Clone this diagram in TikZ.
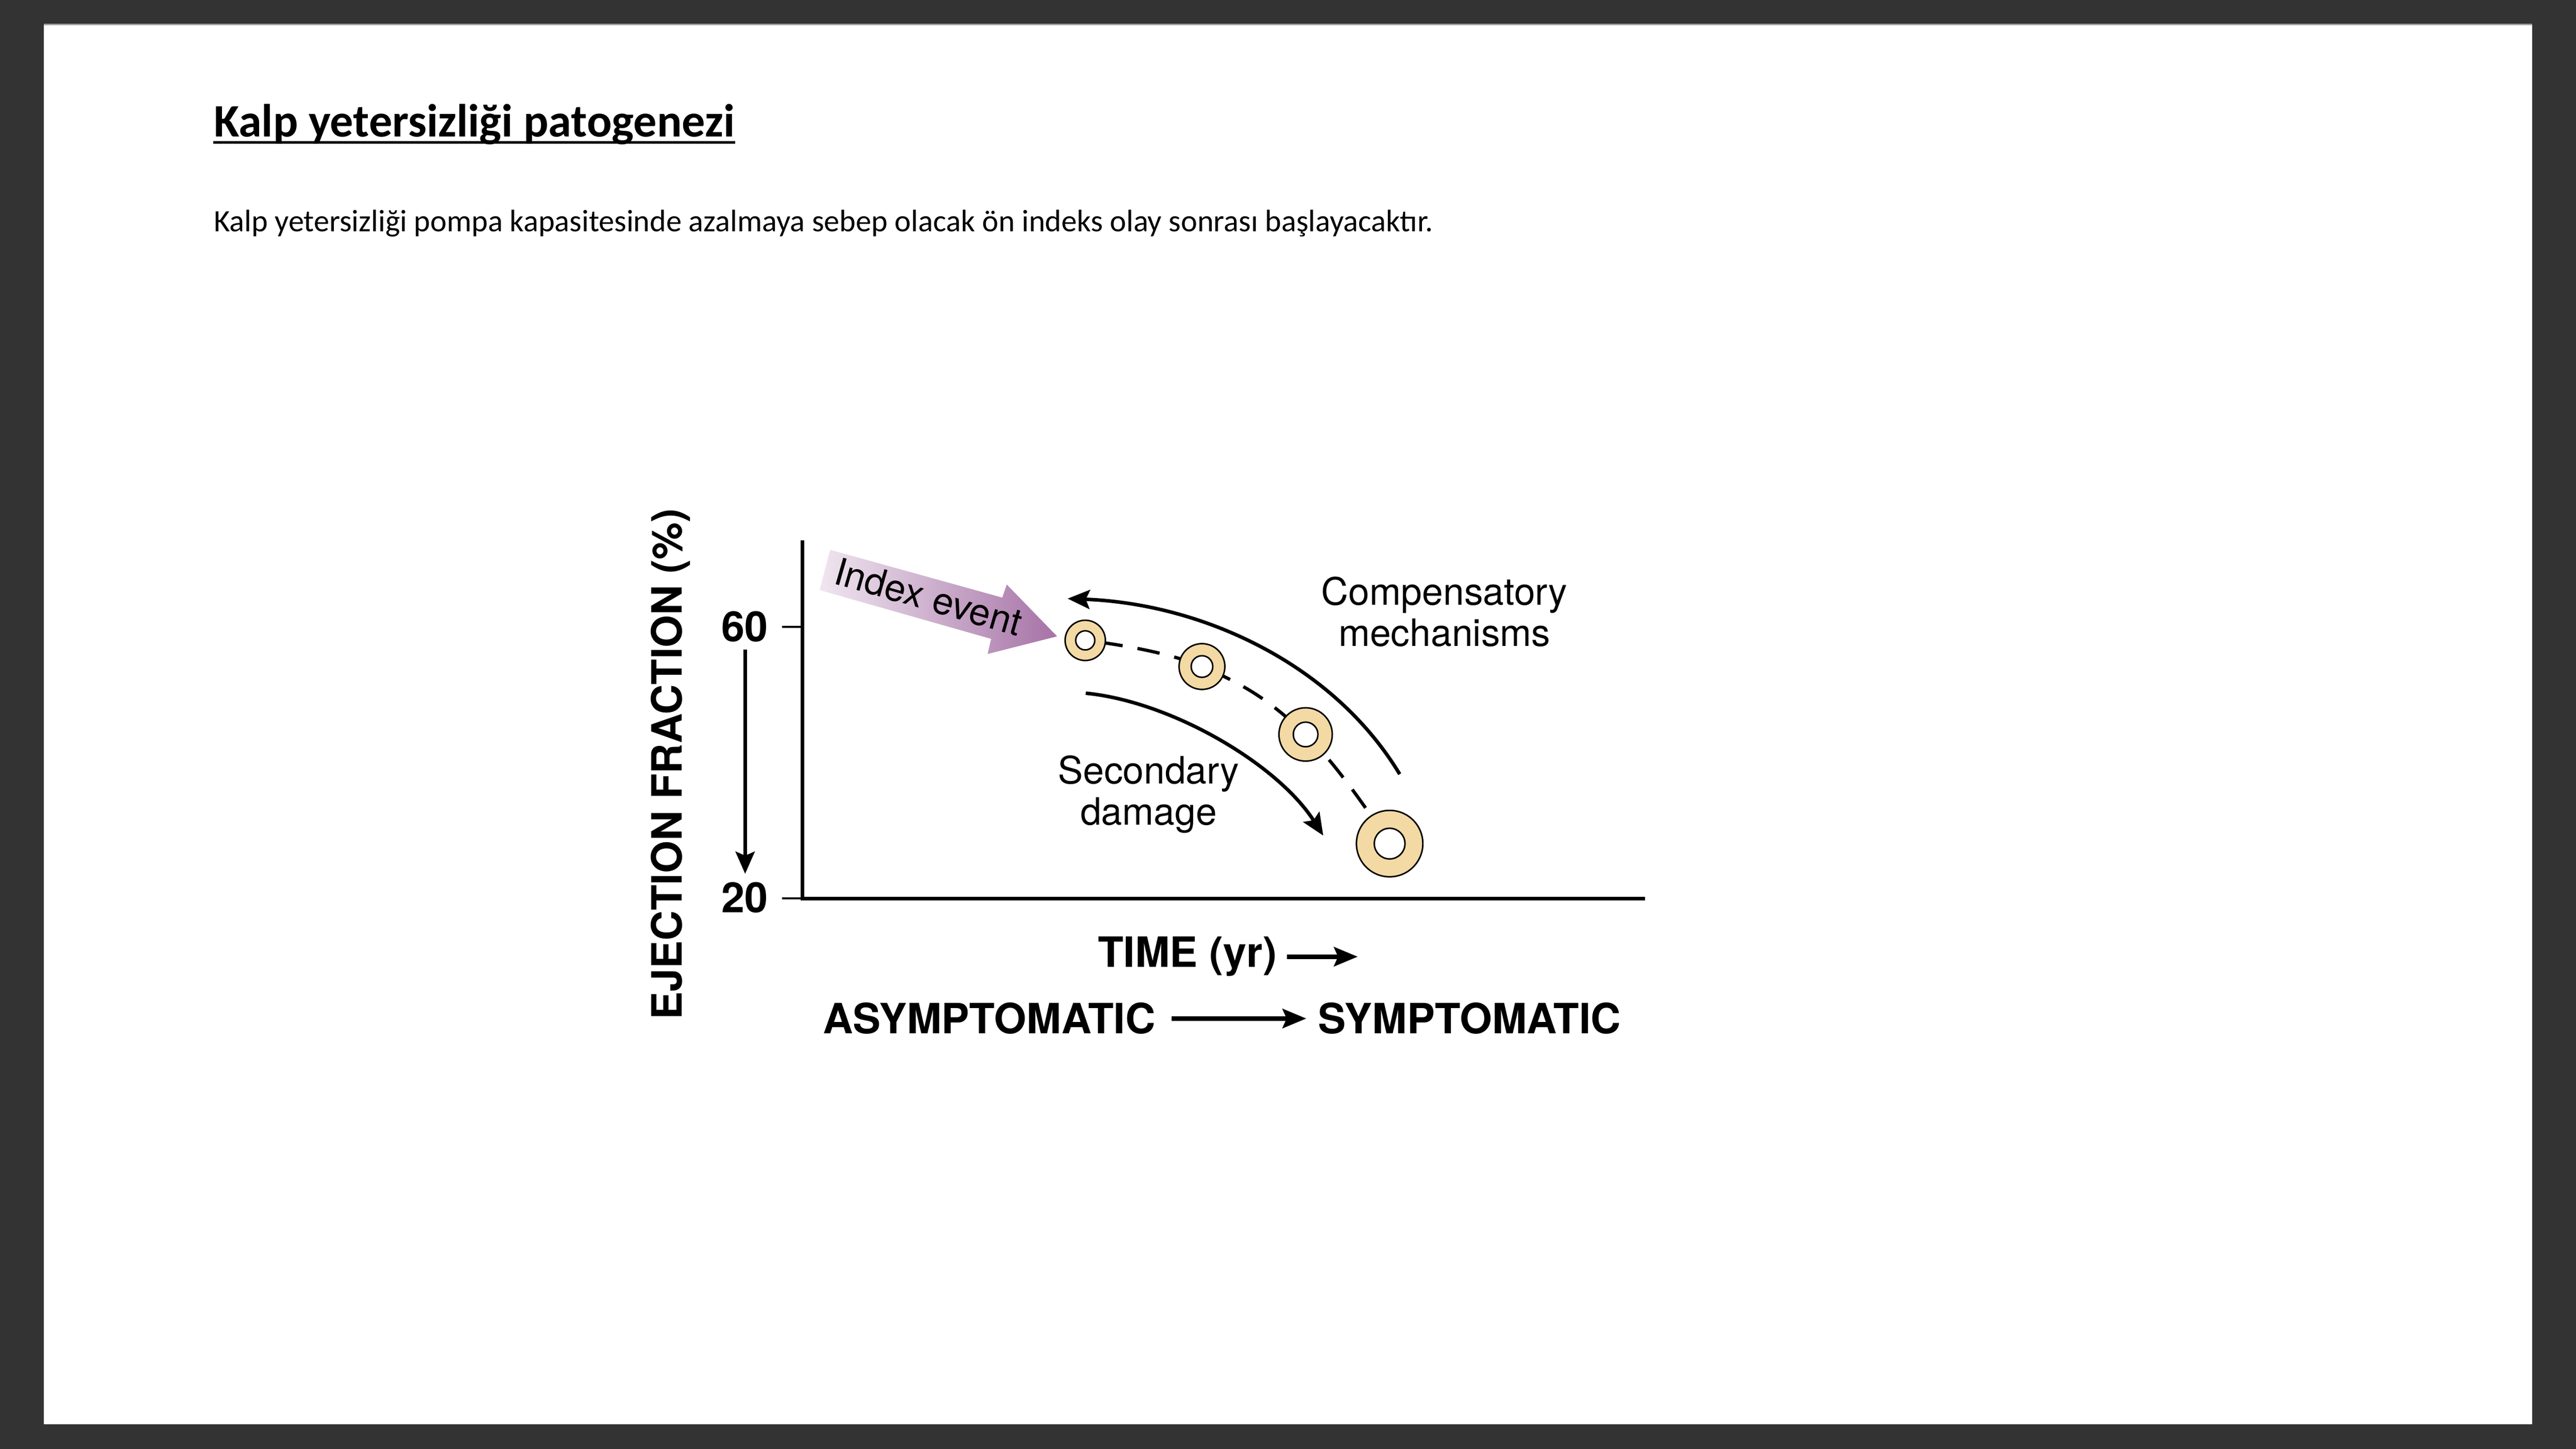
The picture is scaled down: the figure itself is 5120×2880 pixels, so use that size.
\documentclass[tikz,border=0pt]{standalone}
\usepackage{fontspec}
\setmainfont{Carlito}
\newfontfamily\helv{TeX Gyre Heros}
\usetikzlibrary{arrows.meta}
\definecolor{bgdark}{HTML}{333333}
\definecolor{ringfill}{HTML}{F3D9A4}
\definecolor{idxL}{HTML}{F0E6F0}
\definecolor{idxR}{HTML}{A673A6}
\begin{document}
\begin{tikzpicture}[x=0.2pt,y=-0.2pt,
  lbl/.style={font=\helv\fontsize{15pt}{16.4pt}\selectfont, inner sep=0pt, align=center},
  blbl/.style={font=\helv\bfseries\fontsize{16.6pt}{18pt}\selectfont, inner sep=0pt},
  axisline/.style={line width=1.4pt},
  tickline/.style={line width=0.8pt},
  figarrow/.style={line width=1.4pt, -{Stealth[length=8.8pt,width=7.6pt,inset=1.6pt]}},
  figarrowb/.style={line width=1.8pt, -{Stealth[length=9.4pt,width=7.6pt,inset=1.6pt]}},
  ring/.style={circle, draw=black, line width=0.6pt, fill=ringfill, inner sep=0pt},
  hole/.style={draw=black, line width=0.6pt, fill=white},
]
\useasboundingbox (0,0) rectangle (5120,2880);
\fill[bgdark] (0,0) rectangle (5120,2880);
\fill[white] (87,49) rectangle (5033,2831);
\draw[gray!75, line width=0.5pt] (87,48.5) -- (5033,48.5);

% title and text
\node[anchor=base west, inner sep=0pt, font=\bfseries\fontsize{18.5pt}{22pt}\selectfont] (title) at (424,272) {Kalp yetersizliği patogenezi};
\draw[line width=1pt] ([yshift=-2.2pt]title.base west) -- ([yshift=-2.2pt]title.base east);
\node[anchor=base west, inner sep=0pt, font=\fontsize{12.35pt}{14pt}\selectfont] (sub) at (424,460) {Kalp yetersizliği pompa kapasitesinde azalmaya sebep olacak ön indeks olay sonrası başlayacaktır.};

% axes
\coordinate (ytop) at (1595,1074);
\coordinate (O) at (1595,1786);
\coordinate (xend) at (3270,1786);
\coordinate (t60) at (1595,1246);
\coordinate (t60l) at (1554,1246);
\coordinate (t20l) at (1554,1786);
\draw[axisline] (ytop) -- (O) -- (xend);
\draw[tickline] (t60l) -- (t60);
\draw[tickline] (t20l) -- (O);

\node[blbl, anchor=base] (n60) at (1480,1275) {60};
\node[blbl, anchor=base] (n20) at (1480,1814) {20};
\coordinate (efa) at (1481,1291);
\coordinate (efb) at (1481,1737);
\draw[figarrow] (efa) -- (efb);
\node[blbl, rotate=90, anchor=base] (ylab) at (1355,1519) {EJECTION FRACTION (\%)};

% index event arrow
\shade[left color=idxL, right color=idxR] (1650,1093) -- (1992,1188) -- (2001,1162) -- (2101,1265) -- (1963,1300) -- (1970,1270) -- (1629,1173) -- cycle;
\node[lbl, rotate=-16, anchor=base] (idx) at (1838,1212) {Index event};

% dashed course
\coordinate (p1) at (2157,1273);
\coordinate (p2) at (2389,1325);
\coordinate (p3) at (2595,1460);
\coordinate (p4) at (2762,1677);
\draw[line width=1.3pt, dash pattern=on 9pt off 6pt, dash phase=9pt] plot[smooth, tension=0.7] coordinates {(p1) (p2) (p3) (p4)};

% rings
\node[ring, minimum size=16pt] (c1) at (p1) {};
\draw[hole] (c1.center) circle[radius=3.8pt];
\node[ring, minimum size=18.2pt] (c2) at (p2) {};
\draw[hole] (c2.center) circle[radius=4.3pt];
\node[ring, minimum size=21.2pt] (c3) at (p3) {};
\draw[hole] (c3.center) circle[radius=4.9pt];
\node[ring, minimum size=26.4pt] (c4) at (p4) {};
\draw[hole] (c4.center) circle[radius=6.1pt];

% curved arrows
\coordinate (ca) at (2782,1539);
\coordinate (cb) at (2122,1190);
\draw[figarrow] (ca) .. controls (2650,1320) and (2390,1200) .. (cb);
\coordinate (sa) at (2158,1378);
\coordinate (sb) at (2630,1661);
\draw[figarrow] (sa) .. controls (2330,1395) and (2540,1520) .. (sb);

\node[lbl] (comp) at (2871,1216) {Compensatory\\mechanisms};
\node[lbl] (sec) at (2283,1579) {Secondary\\damage};

% bottom labels
\node[blbl, anchor=base] (time) at (2360,1923) {TIME (yr)};
\draw[figarrowb] ([xshift=3.8pt]time.east) -- ([xshift=32pt]time.east);
\node[blbl, anchor=base] (asym) at (1966,2055) {ASYMPTOMATIC};
\node[blbl, anchor=base] (sym) at (2921,2055) {SYMPTOMATIC};
\draw[figarrowb] ([xshift=6.2pt]asym.east) -- ([xshift=-4.6pt]sym.west);
\end{tikzpicture}
\end{document}
